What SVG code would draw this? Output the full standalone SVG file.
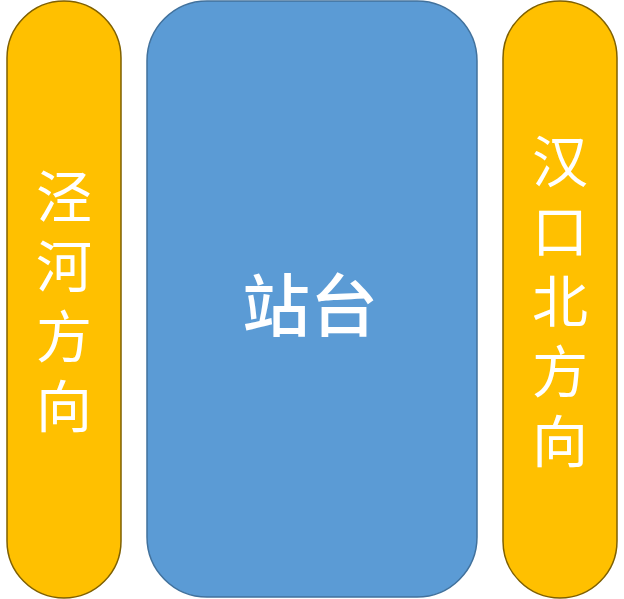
<svg xmlns="http://www.w3.org/2000/svg" width="624" height="599" viewBox="0 0 624 599">
<style>
.pill{fill:#FFC000;stroke:#7F6000;stroke-width:1.5}
.plat{fill:#5B9BD5;stroke:#41719C;stroke-width:1.5}
.t{fill:#FFFFFF;font-family:"Microsoft YaHei","Noto Sans CJK SC",sans-serif}
.side{font-size:56px;writing-mode:vertical-rl;text-orientation:upright;letter-spacing:14px;text-anchor:start}
.mid{font-size:68px;font-weight:500;text-anchor:middle;dominant-baseline:central}
</style>
<rect width="624" height="599" fill="#FFFFFF"/>
<g id="node-jinghe">
<rect class="pill" x="7" y="1" width="114" height="597" rx="57" ry="57"/>
<text class="t side" x="64" y="168">泾河方向</text>
</g>
<g id="node-platform">
<rect class="plat" x="147" y="1" width="330" height="596" rx="60" ry="60"/>
<text class="t mid" x="310" y="301">站台</text>
</g>
<g id="node-hankoubei">
<rect class="pill" x="503" y="1" width="114" height="597" rx="57" ry="57"/>
<text class="t side" x="560" y="133">汉口北方向</text>
</g>
<g id="connectors"></g>
</svg>
